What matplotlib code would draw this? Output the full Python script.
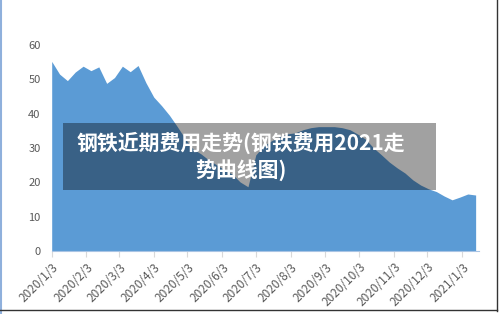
import numpy as np
import pandas as pd
import matplotlib
matplotlib.use("Agg")
import matplotlib.pyplot as plt
from matplotlib.patches import Rectangle

plt.rcParams['font.family'] = ['Noto Sans CJK SC', 'DejaVu Sans']

# weekly price readings, starting 2020/1/3
start_date = "2020-01-03"
values = [55.2, 51.5, 49.6, 52.1, 53.8, 52.5, 53.6, 48.8, 50.5, 53.8,
          52.2, 54.0, 49.0, 44.8, 42.3, 39.5, 36.2, 32.7, 29.7, 28.3,
          26.5, 25.1, 23.6, 22.4, 20.1, 18.7, 28.0, 30.6, 32.1, 33.2,
          34.1, 34.4, 35.3, 35.9, 36.2, 36.2, 36.2, 35.9, 35.3, 34.0,
          32.5, 30.0, 28.0, 25.9, 24.2, 22.7, 20.7, 19.2, 18.1, 17.3,
          16.0, 14.9, 15.7, 16.6, 16.3]
dates = pd.date_range(start_date, periods=len(values), freq="7D")
tick_dates = pd.date_range("2020-01-01", periods=13, freq="MS") + pd.Timedelta(days=2)
title_text = "钢铁近期费用走势(钢铁费用2021走\n势曲线图)"

fig = plt.figure(figsize=(5, 3.14), dpi=100)
ax = fig.add_axes([0.1034, 0.2006, 0.8546, 0.6564])

ax.fill_between(dates, values, 0, color="#5b9bd5", linewidth=0)
ax.set_xlim(dates[0], dates[-1] + pd.Timedelta(days=3))
ax.set_ylim(0, 60)
ax.set_yticks(range(0, 61, 10))
ax.set_xticks(tick_dates)
ax.set_xticklabels([f"{d.year}/{d.month}/{d.day}" for d in tick_dates],
                   rotation=45, ha="right", rotation_mode="anchor")

for s in ["top", "right", "left"]:
    ax.spines[s].set_visible(False)
ax.spines["bottom"].set_color("#a9c4e4")
ax.tick_params(axis="y", length=0, pad=8, labelsize=8, labelcolor="#595959")
ax.tick_params(axis="x", length=4, color="#d9d9d9", pad=3, labelsize=8.5,
               labelcolor="#595959")

# translucent caption box
fig.patches.append(Rectangle((63 / 500, 1 - 190 / 314), 373 / 500, 67 / 314,
                             transform=fig.transFigure, facecolor="black",
                             alpha=0.37, edgecolor="none", zorder=5))
fig.text(0.482, 1 - 156 / 314, title_text, color="white", fontsize=15,
         fontweight="bold", ha="center", va="center", linespacing=1.3,
         zorder=6)

# thin frame round the picture
fig.add_artist(plt.Line2D([0.002, 0.002], [0, 1], color="#8fb0dc", lw=1.5))
fig.add_artist(plt.Line2D([0.994, 0.994], [0.01, 1], color="#333333", lw=1))
fig.add_artist(plt.Line2D([0, 0.994], [0.012, 0.012], color="#333333", lw=1))

fig.savefig("out.png", dpi=100)
